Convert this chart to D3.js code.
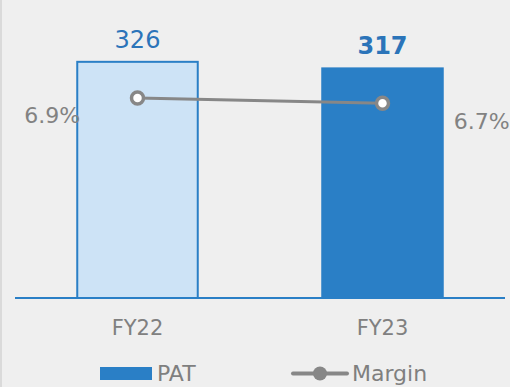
<!DOCTYPE html>
<html>
<head>
<meta charset="utf-8">
<script src="https://cdn.jsdelivr.net/npm/d3@7"></script>
<style>
  html, body { margin: 0; padding: 0; background: #efefef; }
  svg { display: block; }
  text { font-family: "DejaVu Sans", sans-serif; }
</style>
</head>
<body>
<svg id="chart" width="510" height="387"></svg>
<script>
// PAT (bars) and margin (line, secondary scale) by fiscal year
const categories = ["FY22", "FY23"];
const patValues = [326, 317];
const marginValues = [6.9, 6.7];
const marginLabels = ["6.9%", "6.7%"];
const seriesNames = ["PAT", "Margin"];

const W = 510, H = 387;
const plot = { left: 15, right: 505, top: 7, bottom: 298 };
const blue = "#2a7fc6";
const lightBlue = "#cde3f6";
const gray = "#878787";

const svg = d3.select("#chart");

// background and left edge
svg.append("rect").attr("width", W).attr("height", H).attr("fill", "#efefef");
svg.append("rect").attr("x", 0).attr("y", 0).attr("width", 2).attr("height", H).attr("fill", "#dadada");

const x = d3.scaleBand().domain(categories).range([plot.left, plot.right]).paddingInner(0.5).paddingOuter(0.25);
const y = d3.scaleLinear().domain([0, 400]).range([plot.bottom, plot.top]);
const y2 = d3.scaleLinear().domain([-1, 10.5]).range([plot.bottom, plot.top]);

const cx = d => x(d) + x.bandwidth() / 2;

// bars
svg.selectAll("rect.bar").data(categories).enter().append("rect")
  .attr("class", "bar")
  .attr("x", (d, i) => x(d) + (i === 0 ? 1 : 0))
  .attr("y", (d, i) => y(patValues[i]) + (i === 0 ? 1 : 0))
  .attr("width", (d, i) => x.bandwidth() - (i === 0 ? 2 : 0))
  .attr("height", (d, i) => plot.bottom - y(patValues[i]) - (i === 0 ? 1 : 0))
  .attr("fill", (d, i) => i === 0 ? lightBlue : blue)
  .attr("stroke", (d, i) => i === 0 ? blue : "none")
  .attr("stroke-width", 2);

// category axis
const xAxis = svg.append("g").attr("transform", `translate(0,${plot.bottom})`)
  .call(d3.axisBottom(x).tickSize(0).tickPadding(22));
xAxis.select(".domain").attr("stroke", blue).attr("stroke-width", 2)
  .attr("d", `M${plot.left},0H${plot.right}`);
xAxis.selectAll("text").attr("fill", "#808080").attr("font-size", 21)
  .attr("font-family", "DejaVu Sans, sans-serif");

// bar value labels
svg.selectAll("text.val").data(categories).enter().append("text")
  .attr("class", "val")
  .attr("x", d => cx(d))
  .attr("y", (d, i) => y(patValues[i]) - 13)
  .attr("text-anchor", "middle")
  .attr("font-size", 24)
  .attr("font-weight", (d, i) => i === 1 ? "bold" : "normal")
  .attr("fill", "#2b74b9")
  .text((d, i) => patValues[i]);

// margin line
const line = d3.line().x((d, i) => cx(categories[i])).y(d => y2(d));
svg.append("path").datum(marginValues)
  .attr("d", line).attr("fill", "none").attr("stroke", gray).attr("stroke-width", 3);
svg.selectAll("circle.pt").data(marginValues).enter().append("circle")
  .attr("class", "pt")
  .attr("cx", (d, i) => cx(categories[i]))
  .attr("cy", d => y2(d))
  .attr("r", 6)
  .attr("fill", "#ffffff")
  .attr("stroke", gray)
  .attr("stroke-width", 3.5);

// margin labels: left of first point, right of last
svg.selectAll("text.mlab").data(marginValues).enter().append("text")
  .attr("class", "mlab")
  .attr("x", (d, i) => i === 0 ? x(categories[0]) + 4 : x(categories[1]) + x.bandwidth() + 10)
  .attr("y", (d, i) => y2(d) + (i === 0 ? 25 : 26))
  .attr("text-anchor", (d, i) => i === 0 ? "end" : "start")
  .attr("font-size", 22)
  .attr("fill", "#828282")
  .text((d, i) => marginLabels[i]);

// legend
const leg = svg.append("g");
leg.append("rect").attr("x", 100).attr("y", 367).attr("width", 52).attr("height", 13).attr("fill", blue);
leg.append("text").attr("x", 157).attr("y", 381).attr("font-size", 22).attr("fill", "#7f7f7f").text(seriesNames[0]);
leg.append("line").attr("x1", 293).attr("x2", 347).attr("y1", 373.5).attr("y2", 373.5)
  .attr("stroke", gray).attr("stroke-width", 4).attr("stroke-linecap", "round");
leg.append("circle").attr("cx", 320).attr("cy", 373.5).attr("r", 7).attr("fill", gray);
leg.append("text").attr("x", 352).attr("y", 381).attr("font-size", 22).attr("fill", "#7f7f7f").text(seriesNames[1]);
</script>
</body>
</html>
